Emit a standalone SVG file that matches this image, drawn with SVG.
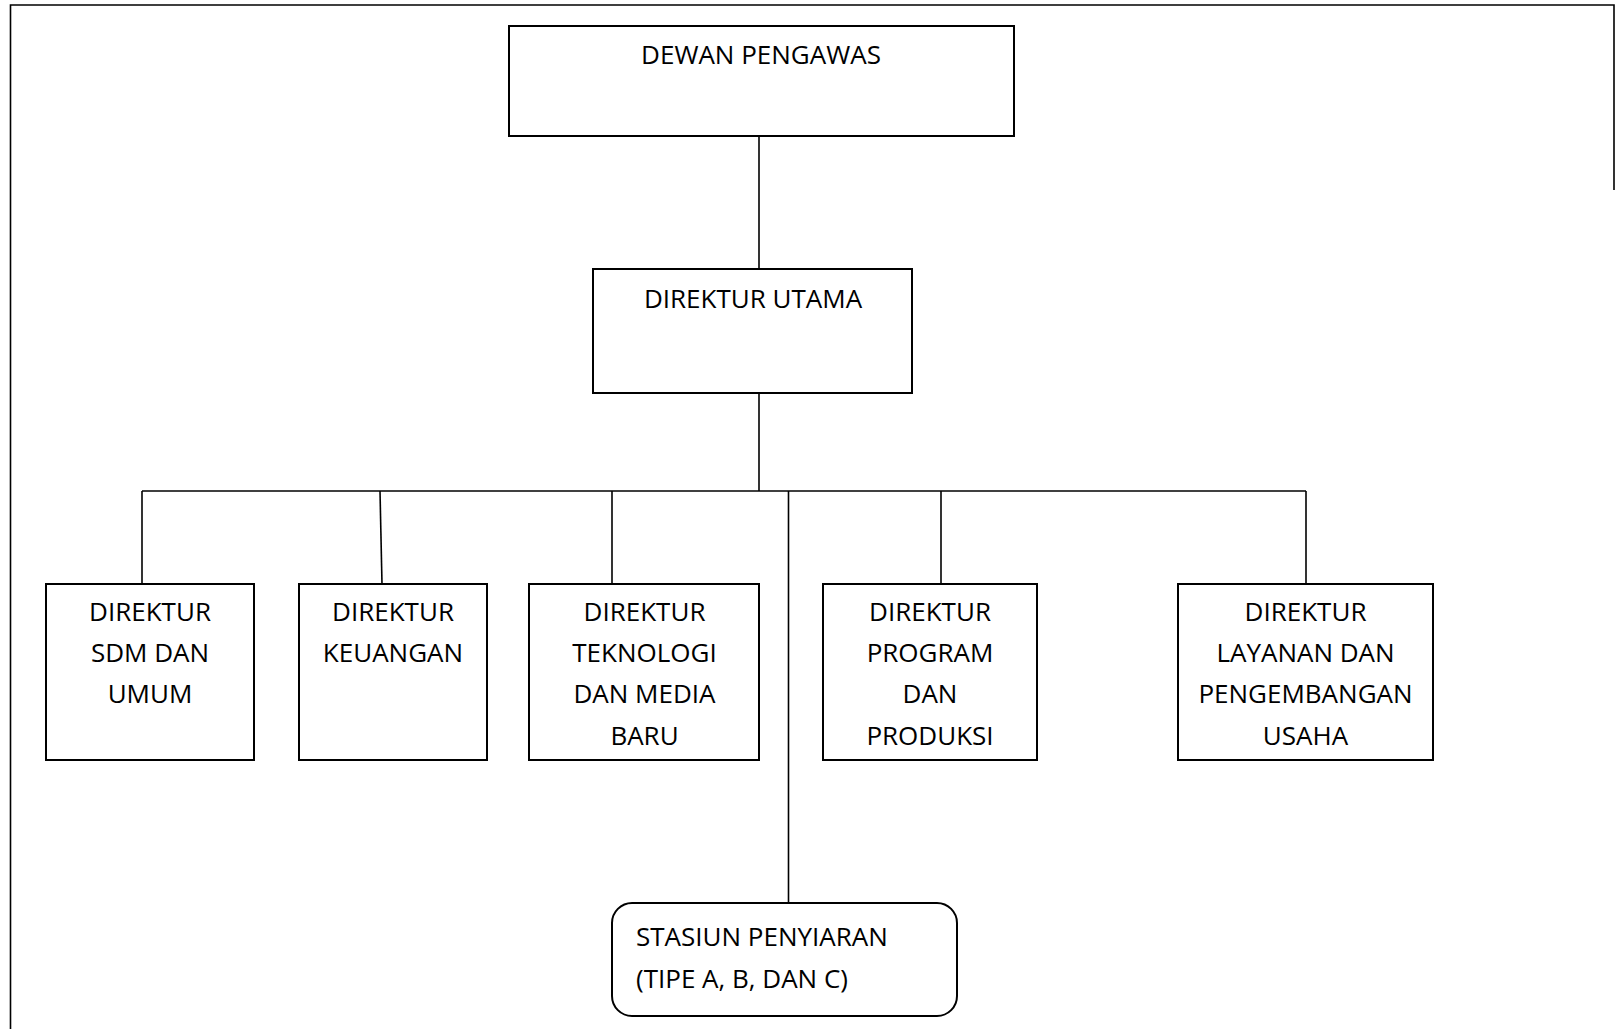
<svg xmlns="http://www.w3.org/2000/svg" width="1617" height="1029" viewBox="0 0 1617 1029">
<style>
.box{fill:#fff;stroke:#000;stroke-width:2}
.ln{fill:none;stroke:#000;stroke-width:1.6}
.t{font-family:"Open Sans","Liberation Sans",sans-serif;font-size:26px;fill:#000;text-anchor:middle}
.tl{text-anchor:start}
</style>
<rect width="1617" height="1029" fill="#fff"/>
<path class="ln" d="M1614,190 V5 H10.5 V1029" stroke-width="2.2" fill="none" stroke="#000"/>
<g id="connectors">
<path class="ln" d="M759,136 V269"/>
<path class="ln" d="M759,393 V491"/>
<path class="ln" d="M142,491 H1306"/>
<path class="ln" d="M142,491 V584"/>
<path class="ln" d="M380,491 L382,584"/>
<path class="ln" d="M612,491 V584"/>
<path class="ln" d="M941,491 V584"/>
<path class="ln" d="M1306,491 V584"/>
<path class="ln" d="M788.5,491 V903"/>
</g>
<g id="dewan-pengawas">
<rect class="box" x="509" y="26" width="505" height="110"/>
<text class="t" x="761" y="64">DEWAN PENGAWAS</text>
</g>
<g id="direktur-utama">
<rect class="box" x="593" y="269" width="319" height="124"/>
<text class="t" x="753" y="308">DIREKTUR UTAMA</text>
</g>
<g id="direktur-sdm">
<rect class="box" x="46" y="584" width="208" height="176"/>
<text class="t" x="150" y="621">DIREKTUR</text>
<text class="t" x="150" y="662">SDM DAN</text>
<text class="t" x="150" y="703">UMUM</text>
</g>
<g id="direktur-keuangan">
<rect class="box" x="299" y="584" width="188" height="176"/>
<text class="t" x="393" y="621">DIREKTUR</text>
<text class="t" x="393" y="662">KEUANGAN</text>
</g>
<g id="direktur-teknologi">
<rect class="box" x="529" y="584" width="230" height="176"/>
<text class="t" x="644.5" y="621">DIREKTUR</text>
<text class="t" x="644.5" y="662">TEKNOLOGI</text>
<text class="t" x="644.5" y="703">DAN MEDIA</text>
<text class="t" x="644.5" y="745">BARU</text>
</g>
<g id="direktur-program">
<rect class="box" x="823" y="584" width="214" height="176"/>
<text class="t" x="930" y="621">DIREKTUR</text>
<text class="t" x="930" y="662">PROGRAM</text>
<text class="t" x="930" y="703">DAN</text>
<text class="t" x="930" y="745">PRODUKSI</text>
</g>
<g id="direktur-layanan">
<rect class="box" x="1178" y="584" width="255" height="176"/>
<text class="t" x="1305.5" y="621">DIREKTUR</text>
<text class="t" x="1305.5" y="662">LAYANAN DAN</text>
<text class="t" x="1305.5" y="703">PENGEMBANGAN</text>
<text class="t" x="1305.5" y="745">USAHA</text>
</g>
<g id="stasiun-penyiaran">
<rect class="box" x="612" y="903" width="345" height="113" rx="20" ry="20"/>
<text class="t tl" x="636" y="946">STASIUN PENYIARAN</text>
<text class="t tl" x="636" y="988">(TIPE A, B, DAN C)</text>
</g>
</svg>
